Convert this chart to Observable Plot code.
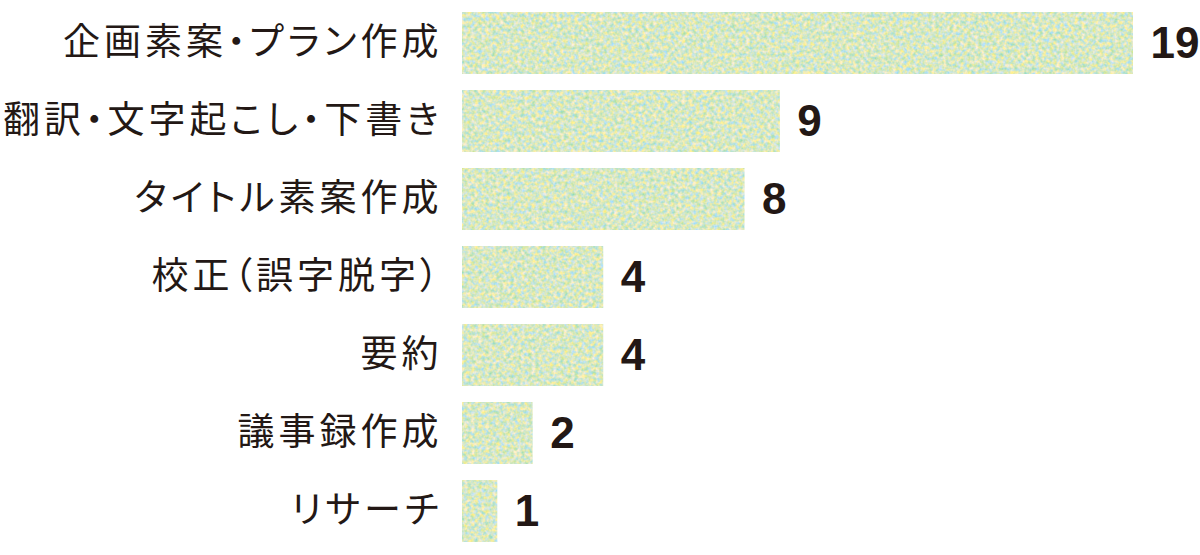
<!DOCTYPE html>
<html lang="ja">
<head>
<meta charset="utf-8">
<script src="https://cdn.jsdelivr.net/npm/d3@7"></script>
<script src="https://cdn.jsdelivr.net/npm/@observablehq/plot@0.6"></script>
<style>
  html, body { margin: 0; padding: 0; background: #fff; }
  #chart svg { display: block; }
  g[aria-label="y-axis tick label"] text {
    letter-spacing: 4px;
    font-feature-settings: "palt";
  }
</style>
</head>
<body>
<div id="chart"></div>
<script>
const categories = ["企画素案・プラン作成", "翻訳・文字起こし・下書き", "タイトル素案作成", "校正（誤字脱字）", "要約", "議事録作成", "リサーチ"];
const counts = [19, 9, 8, 4, 4, 2, 1];

const data = categories.map((c, i) => ({category: c, count: counts[i]}));

const chart = Plot.plot({
  width: 1200,
  height: 555,
  marginLeft: 462,
  marginRight: 67,
  marginTop: 4,
  marginBottom: 5,
  style: {fontFamily: "'Noto Sans CJK JP', sans-serif", color: "#231815", background: "#fff"},
  x: {domain: [0, 19], axis: null},
  y: {domain: categories, paddingInner: 0.2, paddingOuter: 0.1, label: null},
  marks: [
    Plot.barX(data, {x: "count", y: "category", fill: "#d8e9c4"}),
    Plot.axisY({tickSize: 0, tickPadding: 20, fontSize: 37, label: null, fill: "#231815"}),
    Plot.text(data, {
      x: "count", y: "category", text: d => String(d.count),
      dx: 17, textAnchor: "start", fontSize: 44, fontWeight: "bold",
      fontFamily: "'Liberation Sans', Arial, sans-serif", fill: "#231815"
    })
  ]
});

// grain texture for the bars
const ns = "http://www.w3.org/2000/svg";
const defs = document.createElementNS(ns, "defs");
defs.innerHTML = `
<filter id="grain" x="0" y="0" width="1" height="1" color-interpolation-filters="sRGB">
  <feTurbulence type="fractalNoise" baseFrequency="0.28" numOctaves="2" seed="7" result="n"/>
  <feColorMatrix in="n" type="matrix" values="
    0.65 0 0 0 0.515
    0.12 0 0 0 0.85
    -0.3 0.55 0 0 0.645
    0 0 0 0 1" result="c"/>
  <feComposite in="c" in2="SourceGraphic" operator="in"/>
</filter>`;
chart.insertBefore(defs, chart.firstChild);
chart.querySelectorAll('g[aria-label="bar"] rect').forEach(r => r.setAttribute("filter", "url(#grain)"));

document.getElementById("chart").appendChild(chart);
</script>
</body>
</html>
